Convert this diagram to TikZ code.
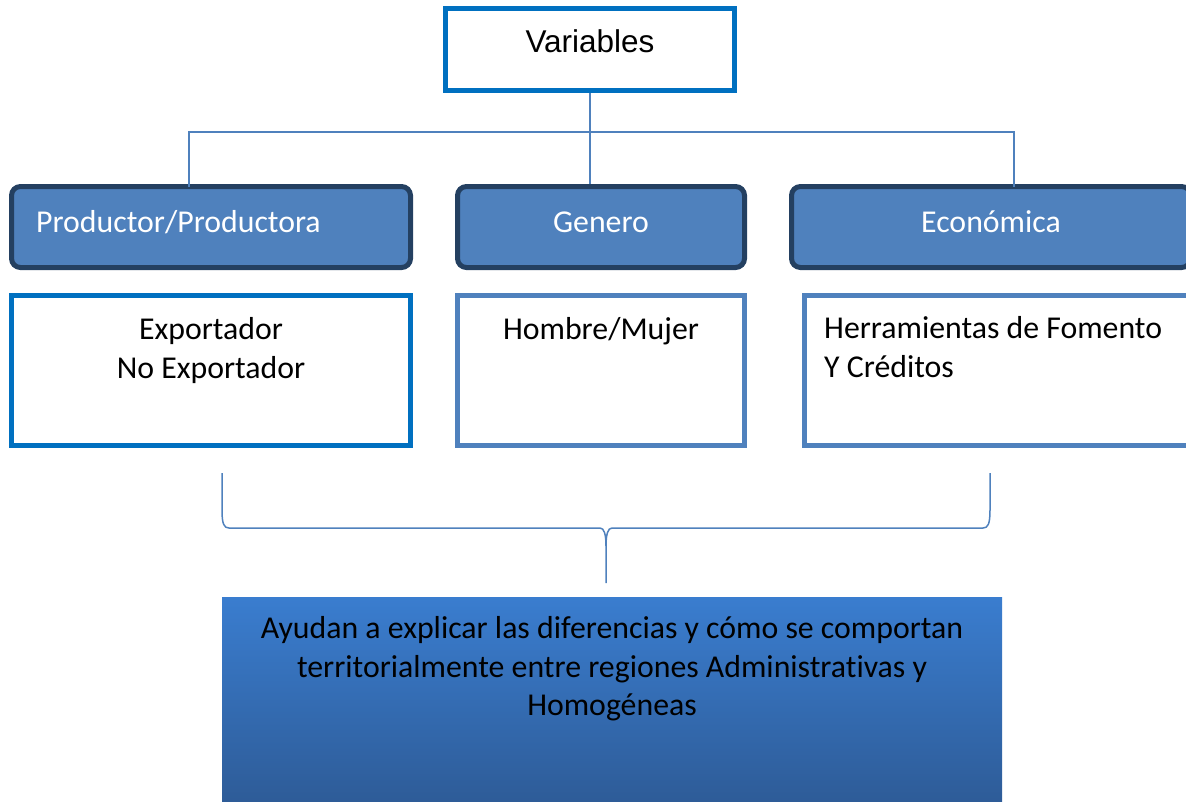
\documentclass[tikz,border=0pt]{standalone}
\usepackage{fontspec}
\setmainfont{Carlito}
\newfontfamily\arialf{Liberation Sans}
\newfontfamily\carl[Ligatures={NoCommon}]{Carlito}
\definecolor{vblue}{RGB}{0,112,192}
\definecolor{mblue}{RGB}{79,129,189}
\definecolor{dnavy}{RGB}{36,64,97}
\definecolor{gtop}{RGB}{58,125,207}
\definecolor{gbot}{RGB}{46,92,152}
\tikzset{
  topbox/.style={draw=vblue, line width=4.7pt, fill=white, inner sep=0pt, minimum width=289pt, minimum height=82pt},
  catbox/.style={draw=dnavy, line width=5pt, fill=mblue, rounded corners=9pt, inner sep=0pt, minimum height=81pt},
  detbox/.style={fill=white, line width=5pt, inner sep=0pt, minimum height=150pt},
  sumbox/.style={inner sep=0pt, top color=gtop, bottom color=gbot, minimum width=780pt, minimum height=204pt},
  conn/.style={draw=mblue, line width=1.8pt},
  bracel/.style={draw=mblue, line width=1.5pt},
  wtxt/.style={text=white, inner sep=0pt, font=\carl\fontsize{31.8}{39}\selectfont},
  btxt/.style={text=black, inner sep=0pt, font=\carl\fontsize{31.8}{39}\selectfont},
}
\begin{document}
\begin{tikzpicture}[x=1pt,y=-1pt]
\useasboundingbox (0,0) rectangle (1186,801);
\clip (0,0) rectangle (1186,801);

% top box
\node[topbox] (V) at (590,49.5) {};
\node[inner sep=0pt, anchor=base, font=\arialf\fontsize{31.5}{36}\selectfont] (Vt) at (590,52) {Variables};

% category boxes
\node[catbox, minimum width=399pt] (P) at (211,227) {};
\node[catbox, minimum width=287pt] (G) at (601,227) {};
\node[catbox, minimum width=399pt] (C) at (991,227) {};
\node[wtxt, anchor=base west] (Pt) at (36,232) {Productor/Productora};
\node[wtxt, anchor=base] (Gt) at (601,232) {Genero};
\node[wtxt, anchor=base] (Ct) at (991,232) {Económica};

% connectors
\coordinate (j) at (590,132);
\coordinate (pj) at (189,186.5);
\coordinate (cj) at (1014,186.5);
\draw[conn] (V.south) -- (j);
\draw[conn] (j) -- (G.north -| j);
\draw[conn] (j) -| (pj);
\draw[conn] (j) -| (cj);

% detail boxes
\node[detbox, draw=vblue, minimum width=399pt] (E) at (211,370.5) {};
\node[detbox, draw=mblue, minimum width=287pt] (H) at (601,370.5) {};
\node[detbox, draw=mblue, minimum width=400pt, anchor=west] (F) at (801.5,370.5) {};
\node[btxt, anchor=base] (Et1) at (211,339) {Exportador};
\node[btxt, anchor=base] (Et2) at (211,378) {No Exportador};
\node[btxt, anchor=base] (Ht) at (601,339) {Hombre/Mujer};
\node[btxt, anchor=base west] (Ft1) at (824,338) {Herramientas de Fomento};
\node[btxt, anchor=base west] (Ft2) at (824,377) {Y Créditos};

% brace
\coordinate (bl) at (222,473);
\coordinate (br) at (990,473);
\coordinate (bt) at (606,583);
\draw[bracel] (bl) -- (222,510) .. controls (222,524) and (224,528) .. (229,528) -- (600,528)
  .. controls (604,528) and (606,534) .. (606,546) -- (bt);
\draw[bracel] (br) -- (990,510) .. controls (990,524) and (988,528) .. (983,528) -- (612,528)
  .. controls (608,528) and (606,534) .. (606,546);

% summary box
\node[sumbox] (S) at (612,699) {};
\node[btxt, anchor=base] (St1) at (612,638) {Ayudan a explicar las diferencias y cómo se comportan};
\node[btxt, anchor=base] (St2) at (612,677) {territorialmente entre regiones Administrativas y};
\node[btxt, anchor=base] (St3) at (612,715) {Homogéneas};
\end{tikzpicture}
\end{document}
